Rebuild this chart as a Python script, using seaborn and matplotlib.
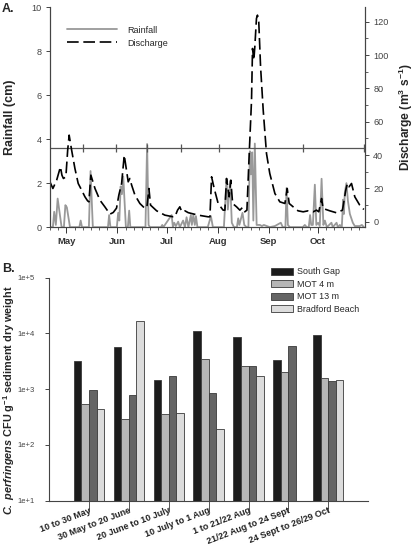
import numpy as np
import pandas as pd
import seaborn as sns
import matplotlib.pyplot as plt
import matplotlib.dates as mdates
import matplotlib.ticker as tick

# ---- Panel A data: days after 21 April ----
start = pd.Timestamp("2008-04-21")

rain_day = [0, 1.8, 2.6, 3.6, 4.7, 7.1, 8.5, 9.4, 10.3, 12.2, 17.9, 18.7, 19.5, 23.7, 24.7, 26.1,
            35.3, 36.0, 36.8, 40.7, 41.5, 42.2, 43.0, 43.8, 44.6, 46.2, 47.4, 48.2, 48.9, 58.1,
            59.1, 60.0, 60.8, 67.5, 68.3, 69.0, 74.0, 74.8, 75.6, 76.6, 78.0, 79.0, 81.0, 82.1,
            83.1, 84.2, 85.7, 86.3, 87.2, 88.1, 88.8, 89.7, 96.0, 97.9, 99.1, 105.8, 107.4,
            108.2, 109.6, 110.6, 111.9, 113.7, 114.5, 115.2, 117.1, 118.2, 119.6, 120.7, 121.6,
            122.2, 123.0, 123.7, 124.6, 125.7, 127.7, 128.9, 130.1, 133.7, 136.8, 140.4, 141.6,
            143.2, 143.9, 144.7, 145.9, 153.8, 155.0, 156.2, 157.4, 158.2, 158.9, 159.9, 161.1,
            162.0, 163.1, 164.1, 165.2, 166.3, 167.2, 168.4, 171.2, 172.0, 174.3, 175.1, 176.3,
            177.5, 178.3, 178.8, 179.3, 180.3, 181.2, 182.4, 184.2, 185.4, 188.4, 189.7, 190.9]
rain_cm = [0, 0, 0.7, 0.1, 1.3, 0, 0, 1.0, 0.9, 0, 0, 0.3, 0, 0, 2.55, 0,
           0, 0.55, 0, 0, 0.65, 0.3, 1.85, 1.5, 2.3, 0, 0, 0.75, 0, 0,
           3.78, 0.1, 0, 0, 0.1, 0, 0.55, 0, 0.2, 0.05, 0.25, 0, 0.3, 0,
           0.45, 0, 0.55, 0.1, 0.55, 0.1, 0.5, 0, 0, 0.5, 0, 0, 2.2,
           0.8, 2.1, 0.2, 0, 0, 0.4, 0.1, 0.65, 0.1, 0, 0, 3.45,
           2.4, 3.4, 0.3, 3.8, 0.1, 0.1, 0.05, 0.1, 0, 0.05, 0.2, 0,
           0, 1.78, 0.1, 0, 0, 0.1, 0, 0, 0.55, 0.1, 0.1, 1.93,
           0.1, 0.2, 0.05, 2.2, 0.1, 0.3, 0, 0.2, 0, 0.2, 0, 0.1,
           0, 1.25, 0.6, 1.55, 2.0, 1.2, 0.6, 0.2, 0.05, 0.05, 0.1, 0]

flow_day = [0.0, 1.8, 4.1, 6.4, 7.3, 8.2, 9.7, 10.8, 11.7, 13.2, 15.2, 17.2, 19.3, 21.3, 22.9,
            23.7, 24.9, 27.4, 30.4, 33.4, 36.5, 38.5, 40.5, 41.9, 43.6, 45.2, 47.6, 48.6, 49.7,
            51.7, 54.7, 57.8, 59.0, 60.2, 61.2, 64.9, 69.9, 75.0, 76.0, 77.6, 79.0, 80.2, 82.1,
            84.1, 86.1, 90.2, 96.2, 97.3, 98.3, 99.9, 102.3, 105.3, 106.4, 107.4, 109.0, 110.0,
            111.1, 113.5, 115.5, 117.1, 118.5, 119.8, 121.2, 122.6, 123.2, 124.0, 124.6, 125.6,
            126.2, 127.0, 128.1, 129.7, 131.7, 133.7, 136.8, 139.8, 142.9, 144.3, 145.5, 147.9,
            150.9, 154.0, 157.0, 160.1, 162.1, 163.5, 165.2, 166.1, 170.2, 174.3, 177.9, 179.9,
            180.9, 181.9, 183.4, 185.4, 188.4, 190.9]
flow_m3s = [24, 20, 25, 33, 28, 26, 27, 43, 52, 43, 32, 23, 19, 15, 12.6,
            12, 28, 20, 13, 9, 4.6, 5.6, 8.2, 16, 23, 40, 24, 26, 22,
            16, 11, 8, 9, 20, 10, 6.6, 4, 3, 3, 7, 9, 6, 6.6,
            5.5, 5, 4, 3, 3, 27, 20, 11, 7, 7, 26, 15, 25,
            11, 9, 7, 8.6, 6, 7, 41, 73, 104, 97, 105, 122,
            124, 120, 93, 67, 41, 29, 17, 12, 11, 20, 11, 9,
            6.6, 6, 6.6, 6, 7, 6, 14, 8, 6.6, 5.4, 7, 19,
            23, 21, 23, 15, 10, 7.4]

sample_dates = ["2008-05-11", "2008-05-31", "2008-06-19", "2008-07-10",
                "2008-08-02", "2008-09-22", "2008-10-29"]
sample_level = 3.62

# ---- Panel B data ----
periods = ["10 to 30 May", "30 May to 20 June", "20 June to 10 July", "10 July to 1 Aug",
           "1 to 21/22 Aug", "21/22 Aug to 24 Sept", "24 Sept to 26/29 Oct"]
sites = ["South Gap", "MOT 4 m", "MOT 13 m", "Bradford Beach"]
south_gap = [3200, 5800, 1450, 11000, 8500, 3400, 9200]
mot_4m = [550, 290, 355, 3450, 2550, 2050, 1580]
mot_13m = [970, 790, 1690, 850, 2550, 6000, 1390]
bradford = [440, 16400, 380, 195, 1730, np.nan, 1450]
site_colors = ["#1c1c1c", "#b6b6b6", "#656565", "#dcdcdc"]

sns.set_style("ticks")
plt.rcParams['font.family'] = ['Liberation Sans', 'DejaVu Sans']
plt.rcParams['mathtext.fontset'] = 'custom'
plt.rcParams['mathtext.rm'] = 'Liberation Sans'
plt.rcParams['mathtext.it'] = 'Liberation Sans:italic'
plt.rcParams['mathtext.bf'] = 'Liberation Sans:bold'
plt.rcParams['mathtext.bfit'] = 'Liberation Sans:italic:bold'

fig = plt.figure(figsize=(4.16, 5.5), dpi=100)
ax1 = fig.add_axes([0.120, 0.587, 0.757, 0.400])
axb = fig.add_axes([0.118, 0.090, 0.767, 0.405])

# ---- Panel A ----
rain_dates = start + pd.to_timedelta(rain_day, unit="D")
flow_dates = start + pd.to_timedelta(flow_day, unit="D")

ax2 = ax1.twinx()
sns.lineplot(x=rain_dates, y=rain_cm, ax=ax1, color="#999999", lw=1.3, sort=False,
             legend=False)
sns.lineplot(x=flow_dates, y=flow_m3s, ax=ax2, color="black", lw=1.2, sort=False,
             legend=False)
ax2.lines[0].set_linestyle((0, (7, 2.8)))

ax1.axhline(sample_level, color="#555555", lw=0.9)
ax1.plot(pd.to_datetime(sample_dates), [sample_level] * len(sample_dates), ls="none",
         marker="|", ms=6, mew=0.9, color="#555555")

ax1.set_xlim(start, start + pd.Timedelta(days=191.5))
ax1.set_ylim(0, 10)
ax2.set_ylim(-3.2, 128.8)
ax1.set_yticks([0, 2, 4, 6, 8, 10])
ax2.set_yticks([0, 20, 40, 60, 80, 100, 120])
ax2.yaxis.set_minor_locator(tick.MultipleLocator(10))
ax1.xaxis.set_major_locator(mdates.MonthLocator())
ax1.xaxis.set_major_formatter(mdates.DateFormatter("%b"))
ax1.xaxis.set_minor_locator(mdates.DayLocator(bymonthday=[6, 11, 16, 21, 26]))

for a in (ax1, ax2):
    a.spines["top"].set_visible(False)
    for s in a.spines.values():
        s.set_color("#444444")
        s.set_linewidth(0.8)
    a.tick_params(axis="y", labelsize=6.6, colors="#444444", length=3, width=0.7, pad=3)
    a.tick_params(axis="y", which="minor", length=2, width=0.6, colors="#444444")
ax1.tick_params(axis="x", labelsize=6.8, length=4, width=0.7, colors="#333333", pad=3)
ax1.tick_params(axis="x", which="minor", length=2, width=0.6, colors="#444444")
for lab in ax1.get_xticklabels():
    lab.set_fontweight("bold")
ax1.set_xlabel("")
ax1.set_ylabel("Rainfall (cm)", fontsize=9, fontweight="bold")
ax1.yaxis.set_label_coords(-0.108, 0.5)
ax2.set_ylabel(r"Discharge (m$^\mathbf{3}$ s$^\mathbf{-1}$)", fontsize=8.7, fontweight="bold")
ax2.yaxis.set_label_coords(1.1, 0.5)

handles = ax1.get_lines()[:1] + ax2.get_lines()[:1]
ax2.legend(handles=handles, labels=["Rainfall", "Discharge"], loc="upper left",
           bbox_to_anchor=(0.035, 0.945), frameon=False, fontsize=6.5, handlelength=5.5,
           handletextpad=1.2, labelspacing=0.45, borderpad=0.2)

# ---- Panel B ----
df = pd.DataFrame({"period": periods * 4,
                   "site": np.repeat(sites, len(periods)),
                   "cfu": south_gap + mot_4m + mot_13m + bradford})
sns.barplot(data=df, x="period", y="cfu", hue="site", hue_order=sites, order=periods,
            palette=dict(zip(sites, site_colors)), width=0.76, gap=0, ax=axb,
            edgecolor="#3a3a3a", linewidth=0.6, errorbar=None, log_scale=(False, True))
axb.set_yscale("log")
axb.set_ylim(10, 1e5)
axb.set_xlim(-1, 7)
axb.yaxis.set_major_locator(tick.FixedLocator([1e1, 1e2, 1e3, 1e4, 1e5]))
axb.yaxis.set_minor_locator(tick.NullLocator())
axb.yaxis.set_major_formatter(tick.FuncFormatter(lambda v, p: "1e+%d" % round(np.log10(v))))
axb.spines["top"].set_visible(False)
axb.spines["right"].set_visible(False)
for s in ("left", "bottom"):
    axb.spines[s].set_color("#444444")
    axb.spines[s].set_linewidth(0.8)
axb.tick_params(axis="y", labelsize=5.5, colors="#444444", length=3, width=0.7, pad=7)
axb.tick_params(axis="x", length=8, width=0.7, color="#555555", labelsize=6.5,
                labelcolor="#222222", pad=-4)
axb.set_xticks(range(len(periods)))
axb.set_xticklabels(periods, rotation=21, ha="right", va="top", rotation_mode="anchor",
                    fontweight="bold")
axb.set_xlabel("")
axb.set_ylabel(r"$\mathbfit{C.\ perfringens}$ CFU g$^\mathbf{-1}$ sediment dry weight",
               fontsize=7.8, fontweight="bold")
axb.yaxis.set_label_coords(-0.1, 0.45)
axb.legend(loc="upper left", bbox_to_anchor=(0.675, 1.075), frameon=False, fontsize=6.4,
           handlelength=2.5, handleheight=0.8, handletextpad=0.5, labelspacing=0.4,
           borderpad=0.2)

fig.text(0.004, 0.995, "A.", fontsize=9, fontweight="bold", va="top")
fig.text(0.004, 0.522, "B.", fontsize=9, fontweight="bold", va="top")

fig.savefig("out.png", dpi=100)
